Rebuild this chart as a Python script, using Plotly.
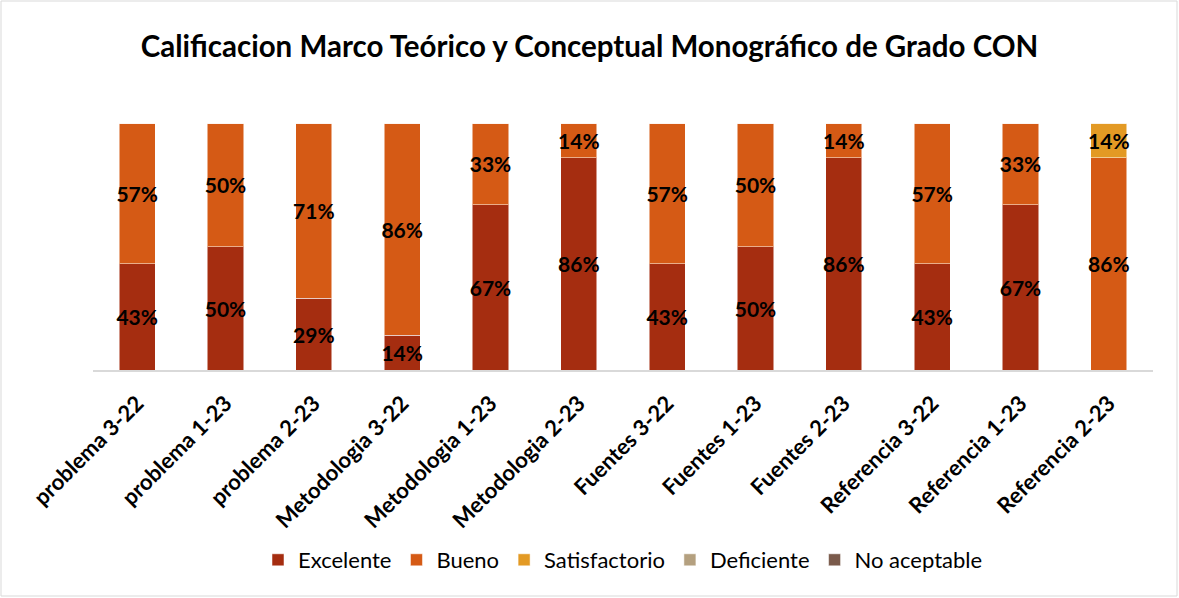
import plotly.graph_objects as go

categories = ["problema 3-22", "problema 1-23", "problema 2-23", "Metodologia 3-22",
              "Metodologia 1-23", "Metodologia 2-23", "Fuentes 3-22", "Fuentes 1-23",
              "Fuentes 2-23", "Referencia 3-22", "Referencia 1-23", "Referencia 2-23"]
excelente = [0.43, 0.50, 0.29, 0.14, 0.67, 0.86, 0.43, 0.50, 0.86, 0.43, 0.67, 0.00]
bueno = [0.57, 0.50, 0.71, 0.86, 0.33, 0.14, 0.57, 0.50, 0.14, 0.57, 0.33, 0.86]
satisfactorio = [0, 0, 0, 0, 0, 0, 0, 0, 0, 0, 0, 0.14]
deficiente = [0] * 12
no_aceptable = [0] * 12

series = [
    ("Excelente", excelente, "#A52D10"),
    ("Bueno", bueno, "#D55A15"),
    ("Satisfactorio", satisfactorio, "#E39A24"),
    ("Deficiente", deficiente, "#B4A07F"),
    ("No aceptable", no_aceptable, "#7A5A4B"),
]

W, H = 1179, 598
ml, mr, mt, mb = 93, 26, 123, 228
FONT = "Lato, Open Sans, sans-serif"

fig = go.Figure()
for name, vals, color in series:
    fig.add_trace(go.Bar(
        name=name, x=categories, y=vals,
        marker=dict(color=color, line=dict(color="rgba(255,255,255,0.5)", width=1)),
        text=[f"{v*100:.0f}%" if v > 0 else "" for v in vals],
        textposition="inside", insidetextanchor="middle",
        textfont=dict(family=FONT, size=21, color="black", weight="bold"),
        textangle=0, constraintext="none", cliponaxis=False,
        hoverinfo="skip",
    ))

fig.update_layout(
    barmode="stack", bargap=0.59,
    width=W, height=H,
    margin=dict(l=ml, r=mr, t=mt, b=mb, autoexpand=False),
    paper_bgcolor="white", plot_bgcolor="white",
    title=dict(text="<b>Calificacion Marco Teórico y Conceptual Monográfico de Grado CON</b>",
               x=0.5, xanchor="center", y=1 - 47 / H, yanchor="middle",
               font=dict(family=FONT, size=29.5, color="black")),
    xaxis=dict(tickangle=-45, showline=True, linecolor="#D9D9D9", linewidth=1.5,
               ticks="", automargin=False, ticklabelstandoff=10,
               tickfont=dict(family=FONT, size=22, color="black", weight="bold")),
    yaxis=dict(range=[0, 1], visible=False, showgrid=False),
    legend=dict(orientation="h", x=0.5, xanchor="center", y=-(560 - 370) / (370 - 123),
                yanchor="middle", font=dict(family=FONT, size=22, color="black"),
                traceorder="normal", itemwidth=30),
    uniformtext=dict(mode=False),
    showlegend=True,
)

pw = W - ml - mr
ph = H - mt - mb
fig.add_shape(type="rect", xref="paper", yref="paper",
              x0=-(ml - 1) / pw, x1=1 + (mr - 2) / pw,
              y0=-(mb - 2) / ph, y1=1 + (mt - 1) / ph,
              line=dict(color="#D9D9D9", width=1), layer="below")

fig.write_html("out.html", config={"displayModeBar": False},
               post_script="document.body.style.margin='0';document.body.style.overflow='hidden';")
